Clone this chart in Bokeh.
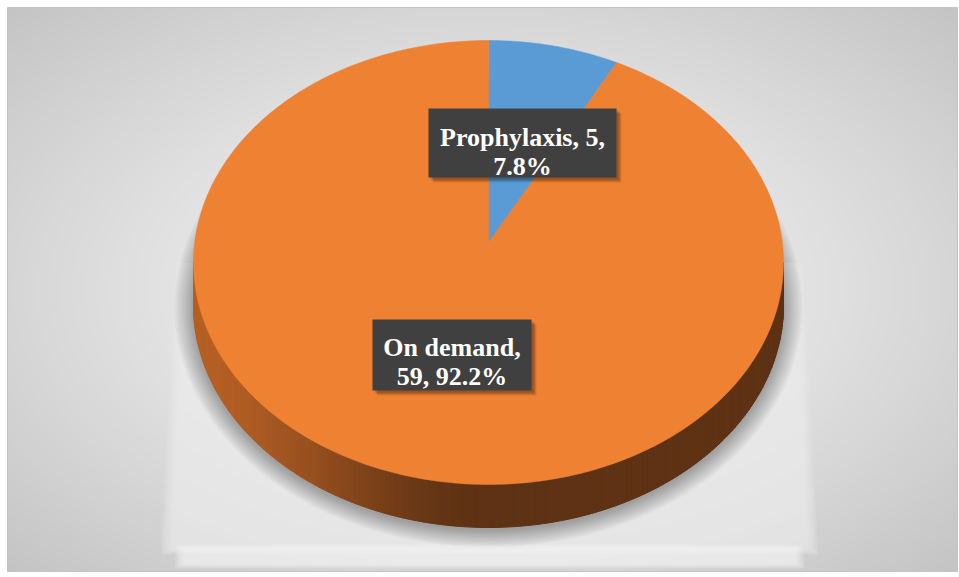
import numpy as np
from bokeh.plotting import figure
from bokeh.models import Range1d
from bokeh.core.properties import value
from bokeh.embed import file_html
from bokeh.resources import INLINE

# ---- data ----
categories = ["Prophylaxis", "On demand"]
counts = [5, 59]
colors = ["#5B9BD5", "#EF8133"]
label_line1 = ["Prophylaxis, 5,", "On demand,"]

total = sum(counts)
pcts = [c / total * 100 for c in counts]
label_line2 = ["{:.1f}%".format(pcts[0]), "{}, {:.1f}%".format(counts[1], pcts[1])]

W, H = 959, 577
p = figure(width=W, height=H, x_range=Range1d(0, W), y_range=Range1d(H, 0),
           output_backend="svg", toolbar_location=None, min_border=0)
p.axis.visible = False
p.xgrid.visible = False
p.ygrid.visible = False
p.outline_line_color = None
p.background_fill_color = "white"
p.border_fill_color = "white"

# ---- chart area background (radial gradient) ----
fx0, fy0, fx1, fy1 = 7, 7, 957, 571
cols, rows = fx1 - fx0, fy1 - fy0
xx, yy = np.meshgrid(np.arange(cols) + 0.5, np.arange(rows) + 0.5)
dx = (xx - cols / 2) / (cols / 2)
dy = (yy - rows / 2) / (rows / 2)
t = np.clip(np.sqrt(dx ** 2 + dy ** 2) / np.sqrt(2), 0, 1)
g = (246 - 50 * t ** 1.25).astype(np.uint8)
img = np.empty((rows, cols), dtype=np.uint32)
view = img.view(dtype=np.uint8).reshape((rows, cols, 4))
view[:, :, 0] = g
view[:, :, 1] = g
view[:, :, 2] = g
view[:, :, 3] = 255
p.image_rgba(image=[img], x=fx0, y=fy0, dw=cols, dh=rows)
p.quad(left=[fx0], right=[fx1], top=[fy0], bottom=[fy1], fill_color=None,
       line_color="#c4c4c4", line_width=1)

# ---- pie geometry ----
cx, cy, rx, ry, depth = 488, 262, 295, 222, 43
persp = 0.09   # perspective shift of the pie centre (normalised)

# lit floor area under the pie (soft-edged)
for k in range(6):
    e = 6 - k
    p.patch([188 - e * 2, 172 - e * 2, 806 + e * 2, 790 + e * 2],
            [262, 548 + e, 548 + e, 262], fill_color="#f0f0f0",
            fill_alpha=0.14, line_color=None)
for k in range(5):
    p.patch([176 + k * 2, 174 + k * 2, 804 - k * 2, 802 - k * 2],
            [544 + k, 568 - k, 568 - k, 544 + k], fill_color="#f6f6f6",
            fill_alpha=0.2, line_color=None)

# soft shadow around the pie side
for k in range(14):
    p.ellipse(x=[cx], y=[cy + depth + 2], width=[2 * (rx + 1 + k * 1.4)],
              height=[2 * (ry + 1 + k * 1.3)], fill_color="black",
              fill_alpha=0.024, line_color=None)

# side of the pie (lower half), coloured strips
N = 200
phis = np.linspace(0, np.pi, N + 1)
side_xs, side_ys, side_cols = [], [], []
c_left = np.array([182, 96, 37])
c_dark = np.array([94, 50, 20])
for i in range(N):
    a0, a1 = phis[i], phis[i + 1]
    x0_, x1_ = cx + rx * np.cos(a0), cx + rx * np.cos(a1)
    y0_, y1_ = cy + ry * np.sin(a0), cy + ry * np.sin(a1)
    side_xs.append([x0_, x1_, x1_, x0_])
    side_ys.append([y0_, y1_, y1_ + depth, y0_ + depth])
    f = ((x0_ + x1_) / 2 - (cx - rx)) / (2 * rx)
    s = np.clip(f / 0.5, 0, 1)
    s = s * s * (3 - 2 * s)
    c = (c_left * (1 - s) + c_dark * s).astype(int)
    side_cols.append("#%02x%02x%02x" % tuple(c))
p.patches(xs=side_xs, ys=side_ys, fill_color=side_cols, line_color=side_cols,
          line_width=1)


def project(u, v):
    """perspective-like mapping of the unit disc (v = far direction)"""
    den = 1 + persp * v
    return (cx + rx * u * np.sqrt(1 - persp ** 2) / den,
            cy - ry * (v + persp) / den)


# top face slices
apex_x, apex_y = project(0.0, 0.0)
start = 0.0
for cnt, col in zip(counts, colors):
    frac = cnt / total
    ts = np.linspace(start, start + frac, max(int(frac * 400), 8)) * 2 * np.pi
    ax_, ay_ = project(np.sin(ts), np.cos(ts))
    xs = [apex_x] + list(ax_)
    ys = [apex_y] + list(ay_)
    p.patch(xs, ys, fill_color=col, line_color=col, line_width=0.5)
    start += frac

# ---- data labels ----
boxes = [(428, 616, 108, 177), (372, 531, 319, 390)]
baselines = [(137, 166), (347, 376)]
for (l, r, tp, b), (b1, b2), t1, t2 in zip(boxes, baselines, label_line1, label_line2):
    for k in range(4):
        p.quad(left=[l + 2 + k], right=[r + 2 + k], top=[tp + 2 + k], bottom=[b + 2 + k],
               fill_color="black", fill_alpha=0.10, line_color=None)
    p.quad(left=[l], right=[r], top=[tp], bottom=[b], fill_color="#404040",
           line_color=None)
    xm = (l + r) / 2
    p.text(x=[xm, xm], y=[b1, b2], text=[t1, t2],
           text_font=value("'Liberation Serif', 'Times New Roman', serif"),
           text_font_style="bold", text_font_size="26px", text_color="white",
           text_align="center", text_baseline="alphabetic")

open("out.html", "w").write(file_html(p, INLINE))
